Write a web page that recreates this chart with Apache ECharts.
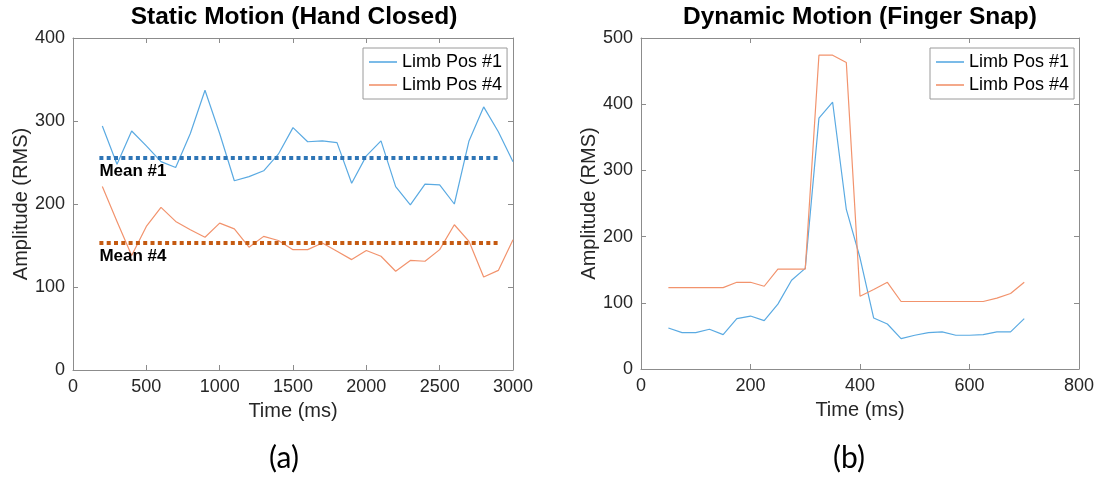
<!DOCTYPE html>
<html>
<head>
<meta charset="utf-8">
<title>Limb position amplitude</title>
<script src="https://cdn.jsdelivr.net/npm/echarts@6/dist/echarts.min.js"></script>
<style>
  html, body { margin: 0; padding: 0; background: #fff; }
  #chart { width: 1101px; height: 478px; }
</style>
</head>
<body>
<div id="chart"></div>
<script>
// ---- Static motion (hand closed): one sample every 100 ms ----
const staticTime = [200, 300, 400, 500, 600, 700, 800, 900, 1000, 1100, 1200, 1300, 1400, 1500,
  1600, 1700, 1800, 1900, 2000, 2100, 2200, 2300, 2400, 2500, 2600, 2700, 2800, 2900, 3000];
const staticPos1 = [294, 248, 288, 270, 251, 244, 285, 337, 285, 228, 233, 240, 260, 292,
  275, 276, 274, 225, 258, 276, 221, 199, 224, 223, 200, 276, 317, 287, 251];
const staticPos4 = [221, 179, 138, 173, 196, 179, 169, 160, 177, 170, 148, 161, 156, 145,
  145, 153, 143, 133, 144, 137, 119, 132, 131, 145, 175, 155, 112, 120, 157];
const staticMeans = [256, 153];
const meanLabels = ['Mean #1', 'Mean #4'];
const meanSpan = [180, 2900];

// ---- Dynamic motion (finger snap): one sample every 25 ms ----
const dynamicTime = [50, 75, 100, 125, 150, 175, 200, 225, 250, 275, 300, 325, 350, 375,
  400, 425, 450, 475, 500, 525, 550, 575, 600, 625, 650, 675, 700];
const dynamicPos1 = [62, 55, 55, 60, 52, 76, 80, 73, 98, 134, 152, 379, 403, 241,
  168, 77, 68, 46, 51, 55, 56, 51, 51, 52, 56, 56, 76];
const dynamicPos4 = [123, 123, 123, 123, 123, 131, 131, 125, 151, 151, 151, 474, 474, 463,
  110, 120, 131, 102, 102, 102, 102, 102, 102, 102, 107, 114, 131];

// ---- Axis ticks ----
const staticXTicks = { min: 0, max: 3000, interval: 500 };
const staticYTicks = { min: 0, max: 400, interval: 100 };
const dynamicXTicks = { min: 0, max: 800, interval: 200 };
const dynamicYTicks = { min: 0, max: 500, interval: 100 };

const seriesNames = ['Limb Pos #1', 'Limb Pos #4'];
const titles = ['Static Motion (Hand Closed)', 'Dynamic Motion (Finger Snap)'];
const panelTags = ['(a)', '(b)'];
const xName = 'Time (ms)';
const yName = 'Amplitude (RMS)';

const FONT = '"Liberation Sans", Arial, Helvetica, sans-serif';
const BLUE = '#5aaae2';
const ORANGE = '#f2936d';
const MEAN_COLORS = ['#2e75b6', '#c55a11'];
const AXIS_GRAY = '#8c8c8c';
const TEXT = '#262626';

const zip = (xs, ys) => xs.map((x, i) => [x, ys[i]]);
const plain = v => String(v);

const axisLineStyle = { show: true, onZero: false, lineStyle: { color: AXIS_GRAY, width: 1 } };
const axisTickStyle = { show: true, inside: true, length: 5, lineStyle: { color: AXIS_GRAY } };

function mainX(gridIndex, ticks) {
  return {
    type: 'value', gridIndex, position: 'bottom', ...ticks,
    name: xName, nameLocation: 'middle', nameGap: 31,
    nameTextStyle: { fontFamily: FONT, fontSize: 20, color: TEXT },
    axisLine: axisLineStyle, axisTick: axisTickStyle,
    axisLabel: { fontFamily: FONT, fontSize: 18, color: TEXT, margin: 8, formatter: plain },
    splitLine: { show: false }
  };
}
function mirrorX(gridIndex, ticks) {
  return {
    type: 'value', gridIndex, position: 'top', ...ticks,
    axisLine: axisLineStyle, axisTick: axisTickStyle,
    axisLabel: { show: false }, splitLine: { show: false }
  };
}
function mainY(gridIndex, ticks) {
  return {
    type: 'value', gridIndex, position: 'left', ...ticks,
    name: yName, nameLocation: 'middle', nameGap: 40,
    nameTextStyle: { fontFamily: FONT, fontSize: 20, color: TEXT },
    axisLine: axisLineStyle, axisTick: axisTickStyle,
    axisLabel: { fontFamily: FONT, fontSize: 18, color: TEXT, margin: 8, formatter: plain },
    splitLine: { show: false }
  };
}
function mirrorY(gridIndex, ticks) {
  return {
    type: 'value', gridIndex, position: 'right', ...ticks,
    axisLine: axisLineStyle, axisTick: axisTickStyle,
    axisLabel: { show: false }, splitLine: { show: false }
  };
}

function meanLine(i) {
  return {
    silent: true,
    animation: false,
    symbol: ['none', 'none'],
    emphasis: { disabled: true },
    lineStyle: { color: MEAN_COLORS[i], width: 4, type: [4, 3.3], cap: 'butt' },
    label: {
      show: true, position: 'insideStartBottom', formatter: meanLabels[i],
      fontFamily: FONT, fontSize: 17, fontWeight: 'bold', color: '#000', distance: [0, 5]
    },
    data: [[{ coord: [meanSpan[0], staticMeans[i]] }, { coord: [meanSpan[1], staticMeans[i]] }]]
  };
}

function lineSeries(name, color, xi, yi, data, extra) {
  return Object.assign({
    name, type: 'line', xAxisIndex: xi, yAxisIndex: yi, data,
    symbol: 'none', smooth: false, animation: false,
    color, lineStyle: { color, width: 1.2 },
    emphasis: { disabled: true }
  }, extra || {});
}

function legendAt(left, top) {
  return {
    orient: 'vertical', left, top,
    data: seriesNames.map(name => ({ name, icon: 'rect' })),
    itemWidth: 28, itemHeight: 1.6, itemGap: 3,
    padding: [4, 5, 4, 6],
    backgroundColor: '#fff',
    borderColor: '#9a9a9a', borderWidth: 1,
    selectedMode: false,
    textStyle: { fontFamily: FONT, fontSize: 18, color: '#000', lineHeight: 20 }
  };
}

function textAt(text, x, y, size, weight, family) {
  return {
    type: 'text', x, y, silent: true,
    style: {
      text, textAlign: 'center', textVerticalAlign: 'middle',
      font: `${weight} ${size}px ${family}`, fill: '#000'
    }
  };
}

const chart = echarts.init(document.getElementById('chart'), null, { renderer: 'canvas' });

chart.setOption({
  backgroundColor: '#fff',
  animation: false,
  grid: [
    { left: 73, top: 38, width: 440, height: 332 },
    { left: 641, top: 38, width: 438, height: 331 }
  ],
  xAxis: [
    mainX(0, staticXTicks), mirrorX(0, staticXTicks),
    mainX(1, dynamicXTicks), mirrorX(1, dynamicXTicks)
  ],
  yAxis: [
    mainY(0, staticYTicks), mirrorY(0, staticYTicks),
    mainY(1, dynamicYTicks), mirrorY(1, dynamicYTicks)
  ],
  legend: [legendAt(363, 48), legendAt(930, 48)],
  graphic: [
    textAt(titles[0], 294, 17, 24.5, 'bold', FONT),
    textAt(titles[1], 860, 17, 24.5, 'bold', FONT),
    textAt(panelTags[0], 284, 458, 30, 'normal', 'Lato, "Open Sans", sans-serif'),
    textAt(panelTags[1], 849, 458, 30, 'normal', 'Lato, "Open Sans", sans-serif')
  ],
  series: [
    lineSeries(seriesNames[0], BLUE, 0, 0, zip(staticTime, staticPos1), { markLine: meanLine(0), z: 2 }),
    lineSeries(seriesNames[1], ORANGE, 0, 0, zip(staticTime, staticPos4), { markLine: meanLine(1), z: 2 }),
    lineSeries(seriesNames[0], BLUE, 2, 2, zip(dynamicTime, dynamicPos1)),
    lineSeries(seriesNames[1], ORANGE, 2, 2, zip(dynamicTime, dynamicPos4))
  ]
});
</script>
</body>
</html>
